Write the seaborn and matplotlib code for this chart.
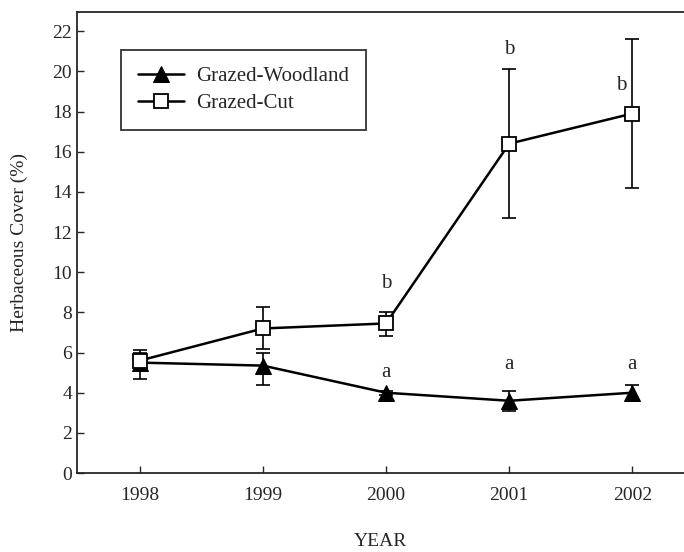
import numpy as np
import pandas as pd
import matplotlib
matplotlib.use("Agg")
import matplotlib.pyplot as plt
import seaborn as sns

years = [1998, 1999, 2000, 2001, 2002]

woodland = [5.5, 5.35, 4.0, 3.6, 4.0]
woodland_lo = [5.1, 4.4, 3.9, 3.1, 3.6]
woodland_hi = [6.0, 6.0, 4.1, 4.1, 4.4]

cut = [5.6, 7.2, 7.45, 16.4, 17.9]
cut_lo = [4.7, 6.2, 6.8, 12.7, 14.2]
cut_hi = [6.15, 8.25, 8.0, 20.1, 21.6]

woodland_letters = ["", "", "a", "a", "a"]
woodland_letter_x = [1998, 1999, 2000, 2001, 2002]
woodland_letter_y = [0, 0, 5.0, 5.4, 5.4]
cut_letters = ["", "", "b", "b", "b"]
cut_letter_x = [1998, 1999, 2000, 2001, 2001.91]
cut_letter_y = [0, 0, 9.45, 21.1, 19.3]

sns.set_style("ticks")
plt.rcParams["font.family"] = ["Liberation Serif", "DejaVu Serif"]
plt.rcParams["xtick.direction"] = "in"
plt.rcParams["ytick.direction"] = "in"

df = pd.DataFrame({
    "year": years * 2,
    "cover": woodland + cut,
    "site": ["Grazed-Woodland"] * 5 + ["Grazed-Cut"] * 5,
})

fig = plt.figure(figsize=(6.84, 5.52), dpi=100)
ax = fig.add_axes([0.1126, 0.143, 0.8874, 0.835])

# error bars first so markers sit on top
ax.errorbar(years, woodland,
            yerr=[np.subtract(woodland, woodland_lo), np.subtract(woodland_hi, woodland)],
            fmt="none", ecolor="black", elinewidth=1.2, capsize=5, capthick=1.2, zorder=2)
ax.errorbar(years, cut,
            yerr=[np.subtract(cut, cut_lo), np.subtract(cut_hi, cut)],
            fmt="none", ecolor="black", elinewidth=1.2, capsize=5, capthick=1.2, zorder=2)

sns.lineplot(data=df, x="year", y="cover", hue="site", style="site",
             markers={"Grazed-Woodland": "^", "Grazed-Cut": "s"},
             dashes=False, palette={"Grazed-Woodland": "black", "Grazed-Cut": "black"},
             linewidth=1.8, markersize=12, markeredgecolor="black", ax=ax, zorder=3)

# open squares for Grazed-Cut
for line in ax.get_lines():
    if line.get_marker() == "s":
        line.set_markerfacecolor("white")
        line.set_markersize(10)
        line.set_markeredgewidth(1.3)

for x, t, y in zip(woodland_letter_x, woodland_letters, woodland_letter_y):
    if t:
        ax.text(x, y, t, ha="center", va="center", fontsize=15)
for x, t, y in zip(cut_letter_x, cut_letters, cut_letter_y):
    if t:
        ax.text(x, y, t, ha="center", va="center", fontsize=15)

ax.set_xlim(1997.49, 2002.42)
ax.set_ylim(0, 22.95)
ax.set_xticks(years)
ax.set_yticks(range(0, 23, 2))
ax.tick_params(labelsize=14, length=5, width=1)
ax.tick_params(axis="x", pad=10)
ax.set_xlabel("YEAR", fontsize=14)
ax.set_ylabel("Herbaceous Cover (%)", fontsize=14)
ax.xaxis.set_label_coords(0.5, -0.13)
ax.yaxis.set_label_coords(-0.08, 0.5)
ax.spines["right"].set_visible(False)
for s in ["left", "bottom", "top"]:
    ax.spines[s].set_linewidth(1.3)

handles, labels = ax.get_legend_handles_labels()
for h in handles:
    if h.get_marker() == "s":
        h.set_markerfacecolor("white")
        h.set_markersize(10)
leg = ax.legend(handles, labels, loc="upper left", bbox_to_anchor=(0.0725, 0.9176),
                borderaxespad=0, frameon=True, fancybox=False, edgecolor="black",
                fontsize=15, handlelength=2.2, borderpad=0.8, labelspacing=0.35,
                handletextpad=0.6)
leg.get_frame().set_linewidth(1.3)

fig.savefig("out.png", dpi=100)
